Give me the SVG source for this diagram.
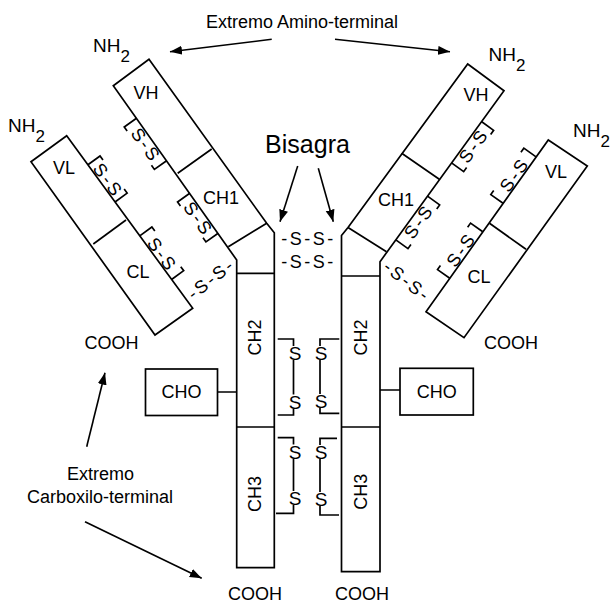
<svg xmlns="http://www.w3.org/2000/svg" width="612" height="605" viewBox="0 0 612 605">
<defs>
<style>
.ln{fill:none;stroke:#000;stroke-width:1.7;stroke-linejoin:miter}
.bx{fill:#fff;stroke:#000;stroke-width:1.7}
.t{font-family:"Liberation Sans",Arial,sans-serif;font-size:18px;fill:#000}
.ss{font-family:"Liberation Sans",Arial,sans-serif;font-size:18px;fill:#000;letter-spacing:2.5px}
.hs{font-family:"Liberation Sans",Arial,sans-serif;font-size:18px;fill:#000;letter-spacing:2.5px}
.s1{font-family:"Liberation Sans",Arial,sans-serif;font-size:19px;fill:#000}
.ar{fill:none;stroke:#000;stroke-width:1.6}
</style>
<marker id="ah" markerUnits="userSpaceOnUse" markerWidth="14" markerHeight="10" refX="12" refY="4.5" orient="auto">
<path d="M0,0 L12,4.5 L0,9 z" fill="#000"/>
</marker>
</defs>
<rect width="612" height="605" fill="#fff"/>

<text class="t" x="302" y="27.5" text-anchor="middle">Extremo Amino-terminal</text>
<text class="t" x="307.5" y="153" text-anchor="middle" style="font-size:25px">Bisagra</text>
<text class="t" x="100.5" y="480" text-anchor="middle">Extremo</text>
<text class="t" x="100" y="503" text-anchor="middle">Carboxilo-terminal</text>

<g id="heavy-left">
<polygon class="ln" points="149,59.3 266.7,223.3 274.3,232.7 274.3,567.7 236.7,567.7 236.7,260 113.3,85.7"/>
<path class="ln" d="M177.7,173.3 L211.7,149 M228.3,246.7 L266.7,223.3 M236.7,273.3 H274.3 M236.7,427 H274.3"/>
<text class="t" x="146" y="98.5" text-anchor="middle">VH</text>
<text class="t" x="221" y="204" text-anchor="middle">CH1</text>
<text class="t" transform="translate(254.5,337.5) rotate(-90)" x="0" y="6.5" text-anchor="middle">CH2</text>
<text class="t" transform="translate(254.5,494) rotate(-90)" x="0" y="6.5" text-anchor="middle">CH3</text>
<text class="t" x="111.5" y="349" text-anchor="middle">COOH</text>
</g>

<g id="light-left">
<polygon class="ln" points="66.7,135.7 192.7,308.3 155,335 31,161.7"/>
<path class="ln" d="M93.3,244 L126,220"/>
<text class="t" x="64" y="174" text-anchor="middle">VL</text>
<text class="t" x="138" y="278" text-anchor="middle">CL</text>
</g>

<g id="heavy-right">
<polygon class="ln" points="467.7,64 504,90.7 380,261.7 380,571.7 341.5,571.7 341.5,235.5 348,227.5"/>
<path class="ln" d="M401.7,153.3 L439.3,179.3 M348,227.5 L386.5,251.7 M341.5,276 H380 M341.5,427 H380"/>
<text class="t" x="476" y="100.5" text-anchor="middle">VH</text>
<text class="t" x="396" y="205.5" text-anchor="middle">CH1</text>
<text class="t" transform="translate(360,337.5) rotate(-90)" x="0" y="6.5" text-anchor="middle">CH2</text>
<text class="t" transform="translate(360,491.7) rotate(-90)" x="0" y="6.5" text-anchor="middle">CH3</text>
<text class="t" x="511" y="349" text-anchor="middle">COOH</text>
</g>

<g id="light-right">
<polygon class="ln" points="548.3,140 587.3,166 464,337.7 426,311.7"/>
<path class="ln" d="M489.5,223.3 L526,249.3"/>
<text class="t" x="556" y="177.5" text-anchor="middle">VL</text>
<text class="t" x="479" y="283" text-anchor="middle">CL</text>
</g>

<g id="cho-left">
<rect class="bx" x="145.5" y="369" width="72" height="46.5"/>
<text class="t" x="181.5" y="398" text-anchor="middle">CHO</text>
</g>
<g id="cho-right">
<rect class="bx" x="400" y="368.3" width="73.3" height="46.7"/>
<text class="t" x="436.7" y="397.5" text-anchor="middle">CHO</text>
</g>

<g id="nh2">
<text class="s1" x="93" y="52">NH<tspan dy="10" style="font-size:17px">2</tspan></text>
<text class="s1" x="8" y="132">NH<tspan dy="10" style="font-size:17px">2</tspan></text>
<text class="s1" x="488.5" y="61">NH<tspan dy="10" style="font-size:17px">2</tspan></text>
<text class="s1" x="573" y="136.5">NH<tspan dy="10" style="font-size:17px">2</tspan></text>
<text class="t" x="255" y="600" text-anchor="middle">COOH</text>
<text class="t" x="362" y="600" text-anchor="middle">COOH</text>
</g>

<g id="connectors">
<line class="ar" x1="271.7" y1="39.3" x2="170" y2="51.7" marker-end="url(#ah)"/>
<line class="ar" x1="335" y1="39.3" x2="450" y2="51.7" marker-end="url(#ah)"/>
<line class="ar" x1="297.7" y1="166" x2="280" y2="221.7" marker-end="url(#ah)"/>
<line class="ar" x1="318.3" y1="168.3" x2="333.3" y2="221.7" marker-end="url(#ah)"/>
<line class="ar" x1="86.7" y1="446.7" x2="105" y2="372.7" marker-end="url(#ah)"/>
<line class="ar" x1="85" y1="521.7" x2="201.7" y2="578.3" marker-end="url(#ah)"/>
<path class="ln" d="M217.5,392 H236.7 M380,390 H400"/>

<g transform="translate(113.3,85.7) rotate(54.6)">
<path class="ln" d="M40,0 V15 H45 M87,15 H92 V0 M132,0 V15 H137 M176,15 H181 V0"/>
<text class="ss" x="67.5" y="14" text-anchor="middle">S-S</text>
<text class="ss" x="158" y="14" text-anchor="middle">S-S</text>
</g>
<g transform="translate(66.7,135.7) rotate(53.9)">
<path class="ln" d="M36,0 V-15 H41 M77,-15 H82 V0 M124,0 V-15 H129 M173,-15 H178 V0"/>
<text class="ss" x="60.5" y="-1" text-anchor="middle">S-S</text>
<text class="ss" x="152.5" y="-1" text-anchor="middle">S-S</text>
</g>
<g transform="translate(380,261.7) rotate(-54.1)">
<path class="ln" d="M122,0 V15 H127 M168,15 H173 V0 M27,0 V15 H32 M76,15 H81 V0"/>
<text class="ss" x="149" y="14" text-anchor="middle">S-S</text>
<text class="ss" x="55.5" y="14" text-anchor="middle">S-S</text>
</g>
<g transform="translate(426,311.7) rotate(-54.6)">
<path class="ln" d="M133,0 V-15 H138 M185,-15 H190 V0 M41,0 V-15 H46 M93,-15 H98 V0"/>
<text class="ss" x="163" y="-1" text-anchor="middle">S-S</text>
<text class="ss" x="71" y="-1" text-anchor="middle">S-S</text>
</g>
<text class="hs" transform="translate(211,278.5) rotate(-38)" x="0" y="6.5" text-anchor="middle">-S-S-</text>
<text class="hs" transform="translate(407.5,281) rotate(38)" x="0" y="6.5" text-anchor="middle">-S-S-</text>

<text class="hs" x="308.5" y="244.8" text-anchor="middle">-S-S-</text>
<text class="hs" x="308.5" y="267.5" text-anchor="middle">-S-S-</text>

<path class="ln" d="M277.7,339 H293.5 V346 M293.5,360 V394.5 M293.5,408.5 V415 H277.7"/>
<text class="s1" x="295" y="360" text-anchor="middle">S</text>
<text class="s1" x="295" y="408.5" text-anchor="middle">S</text>
<path class="ln" d="M339.3,339 H320 V346 M320,360 V394 M320,408 V413.3 H339.3"/>
<text class="s1" x="321" y="360" text-anchor="middle">S</text>
<text class="s1" x="321" y="408" text-anchor="middle">S</text>
<path class="ln" d="M277.7,437.7 H293.5 V444.5 M293.5,458.5 V491 M293.5,505 V513.3 H276"/>
<text class="s1" x="295" y="458.5" text-anchor="middle">S</text>
<text class="s1" x="295" y="505" text-anchor="middle">S</text>
<path class="ln" d="M337,438.3 H320 V445 M320,459 V492 M320,506 V515 H339"/>
<text class="s1" x="321" y="459" text-anchor="middle">S</text>
<text class="s1" x="321" y="506" text-anchor="middle">S</text>
</g>
</svg>
